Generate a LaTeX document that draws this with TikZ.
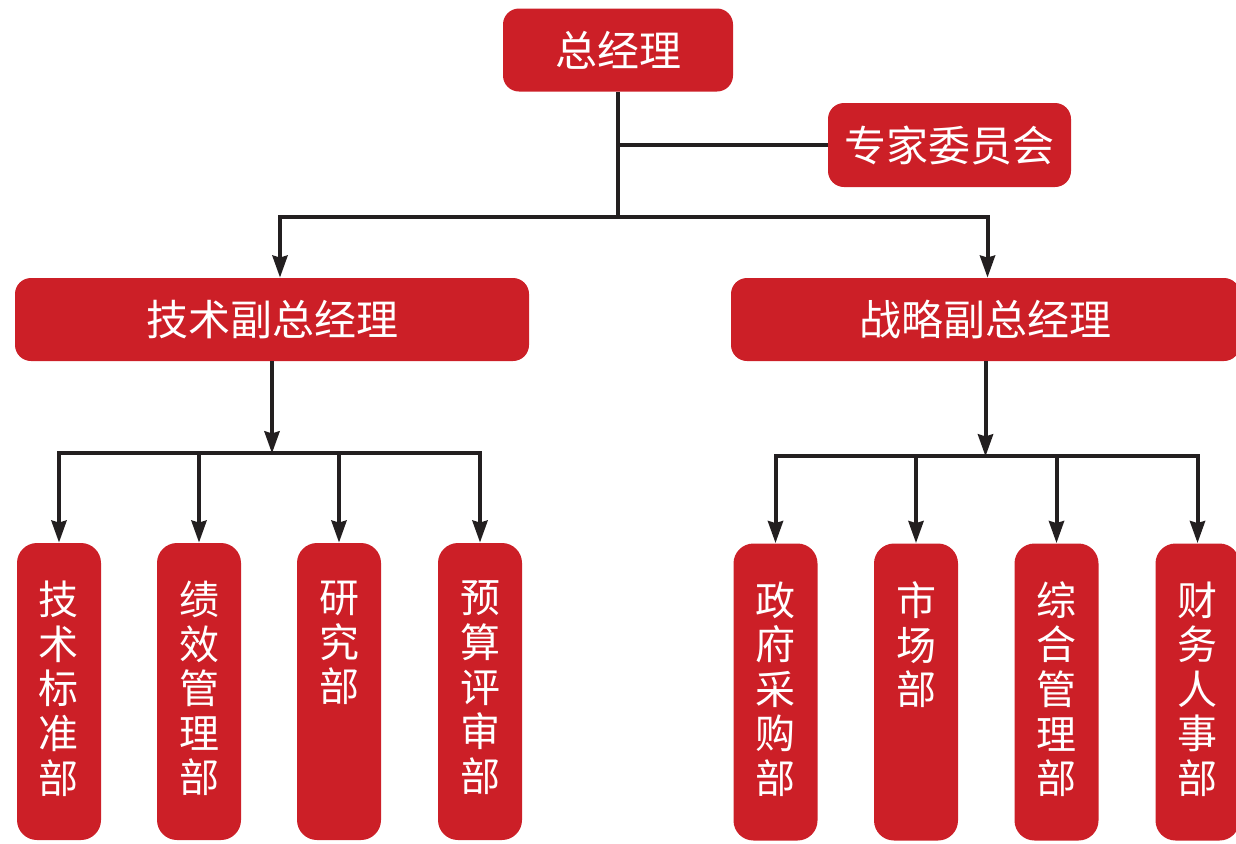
\documentclass[tikz,border=0pt]{standalone}
\usepackage{fontspec}
\newfontfamily\cjk{Noto Sans CJK SC}
\usepackage{tikz}
\usetikzlibrary{calc,arrows.meta}
\definecolor{orgred}{HTML}{CC1F27}
\definecolor{orgline}{HTML}{231F20}

\begin{document}
\begin{tikzpicture}[x=0.5pt,y=-0.5pt,
		box/.style={fill=orgred,rounded corners=8pt,inner sep=0pt,text=white,font=\cjk\fontsize{21}{25}\selectfont},
		dept/.style={fill=orgred,rounded corners=10pt,inner sep=0pt,minimum width=42pt,minimum height=148.5pt},
		dtxt/.style={anchor=north,yshift=-19pt,inner sep=0pt,align=center,text=white,font=\cjk\fontsize{20}{22.3}\selectfont},
		lnk/.style={draw=orgline,line width=2pt},
		arr/.style={lnk,-{Stealth[length=11pt,width=7.5pt,inset=1pt]}}]
			\useasboundingbox (0,0) rectangle (1236,843);
			
			\node[box,minimum width=115pt,minimum height=41.5pt](gm) at (618,50) {总经理};
			\node[box,minimum width=121.5pt,minimum height=42pt](ec) at (949.5,145) {专家委员会};
			\node[box,minimum width=257pt,minimum height=41.5pt](td) at (272,319.5) {技术副总经理};
			\node[box,minimum width=254.5pt,minimum height=41.5pt](sd) at (985.5,319.5) {战略副总经理};
			
			\coordinate(j1) at ($(gm.south)+(0,125)$);
			\draw[lnk] (gm.south)--(j1);
			\draw[lnk] (gm.south |- ec.west)--(ec.west);
			\draw[arr] (j1) -| ($(td.north)+(8,0)$);
			\draw[arr] (j1) -| ($(sd.north)+(2,0)$);
			
			%technical departments
			\node[dept,label={[dtxt]north:技\\术\\标\\准\\部}](d1) at (59,691.5) {};
			\node[dept,label={[dtxt]north:绩\\效\\管\\理\\部}](d2) at ($(d1)+(140,0)$) {};
			\node[dept,label={[dtxt]north:研\\究\\部}](d3) at ($(d2)+(140,0)$) {};
			\node[dept,label={[dtxt]north:预\\算\\评\\审\\部}](d4) at ($(d3)+(141,0)$) {};
			
			\coordinate(j2) at ($(td.south)+(0,92)$);
			\draw[arr] (td.south)--(j2);
			\draw[arr] (j2) -| (d1.north);
			\draw[arr] (j2) -| (d2.north);
			\draw[arr] (j2) -| (d3.north);
			\draw[arr] (j2) -| (d4.north);
			
			%strategic departments
			\node[dept,label={[dtxt]north:政\\府\\采\\购\\部}](s1) at (775.5,692) {};
			\node[dept,label={[dtxt]north:市\\场\\部}](s2) at ($(s1)+(140.5,0)$) {};
			\node[dept,label={[dtxt]north:综\\合\\管\\理\\部}](s3) at ($(s2)+(140.5,0)$) {};
			\node[dept,label={[dtxt]north:财\\务\\人\\事\\部}](s4) at ($(s3)+(141,0)$) {};
			
			\coordinate(j3) at ($(sd.south)+(0,95)$);
			\draw[arr] (sd.south)--(j3);
			\draw[arr] (j3) -| (s1.north);
			\draw[arr] (j3) -| (s2.north);
			\draw[arr] (j3) -| (s3.north);
			\draw[arr] (j3) -| (s4.north);
		\end{tikzpicture}
\end{document}
